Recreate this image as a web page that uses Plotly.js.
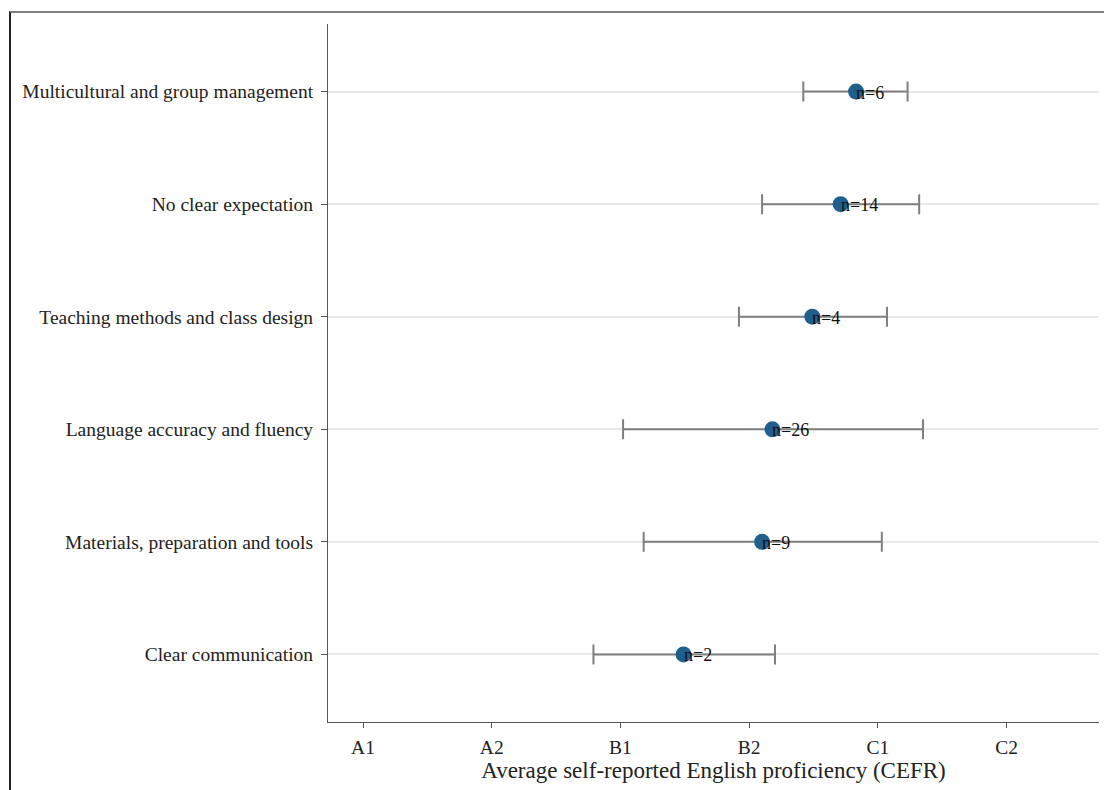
<!DOCTYPE html>
<html>
<head>
<meta charset="utf-8">
<script src="https://cdn.plot.ly/plotly-3.0.1.min.js"></script>
<style>
  html, body { margin: 0; padding: 0; background: #ffffff; }
  #chart { position: absolute; left: 0; top: 0; width: 1104px; height: 790px; }
  #frame {
    position: absolute; left: 9px; top: 11px; width: 1095px; height: 779px;
    border-top: 2px solid #808080; border-left: 2px solid #222222;
    box-sizing: border-box; pointer-events: none; z-index: 5;
  }
</style>
</head>
<body>
<div id="chart"></div>
<div id="frame"></div>
<script>
// Expectation categories, bottom to top
const categories = [
  'Clear communication',
  'Materials, preparation and tools',
  'Language accuracy and fluency',
  'Teaching methods and class design',
  'No clear expectation',
  'Multicultural and group management'
];
// Mean CEFR level (A1 = 1 ... C2 = 6) with interval bounds
const means = [3.49, 4.10, 4.18, 4.49, 4.71, 4.83];
const lower = [2.79, 3.18, 3.02, 3.92, 4.10, 4.42];
const upper = [4.20, 5.03, 5.35, 5.07, 5.32, 5.23];
// Respondents per category
const counts = [2, 9, 26, 4, 14, 6];
// CEFR scale
const levelValues = [1, 2, 3, 4, 5, 6];
const levelLabels = ['A1', 'A2', 'B1', 'B2', 'C1', 'C2'];

const serif = '"Liberation Serif", "Times New Roman", serif';

const points = {
  type: 'scatter',
  mode: 'markers',
  x: means,
  y: categories,
  marker: { color: '#1f5f8e', size: 16, line: { width: 0 } },
  error_x: {
    type: 'data',
    symmetric: false,
    array: means.map((m, i) => upper[i] - m),
    arrayminus: means.map((m, i) => m - lower[i]),
    color: '#7f7f7f',
    thickness: 2,
    width: 10
  },
  hoverinfo: 'x+y',
  showlegend: false
};

const countLabels = means.map((m, i) => ({
  x: m,
  y: categories[i],
  xref: 'x',
  yref: 'y',
  text: 'n=' + counts[i],
  showarrow: false,
  xanchor: 'left',
  yanchor: 'middle',
  xshift: -2,
  yshift: -1,
  font: { family: serif, size: 18, color: '#111111' }
}));

const layout = {
  width: 1104,
  height: 790,
  margin: { l: 328, r: 5, t: 24, b: 68, pad: 0 },
  paper_bgcolor: 'rgba(0,0,0,0)',
  plot_bgcolor: 'rgba(0,0,0,0)',
  font: { family: serif, size: 19.5, color: '#222222' },
  xaxis: {
    range: [0.728, 6.717],
    tickmode: 'array',
    tickvals: levelValues,
    ticktext: levelLabels,
    showgrid: false,
    zeroline: false,
    showline: true,
    linecolor: '#555555',
    linewidth: 1,
    ticks: 'outside',
    ticklen: 5,
    tickcolor: '#555555',
    ticklabelstandoff: 3,
    tickfont: { family: serif, size: 19.5, color: '#222222' },
    automargin: false,
    title: {
      text: 'Average self-reported English proficiency (CEFR)',
      font: { family: serif, size: 23, color: '#222222' },
      standoff: 4
    }
  },
  yaxis: {
    type: 'category',
    categoryorder: 'array',
    categoryarray: categories,
    range: [-0.6, 5.6],
    showgrid: true,
    gridcolor: '#e8e8e8',
    gridwidth: 2,
    zeroline: false,
    showline: true,
    linecolor: '#555555',
    linewidth: 1,
    ticks: 'outside',
    ticklen: 6,
    tickcolor: '#555555',
    ticklabelstandoff: 4,
    tickfont: { family: serif, size: 19.5, color: '#222222' },
    automargin: false
  },
  annotations: countLabels
};

Plotly.newPlot('chart', [points], layout, { displayModeBar: false, staticPlot: true });
</script>
</body>
</html>
